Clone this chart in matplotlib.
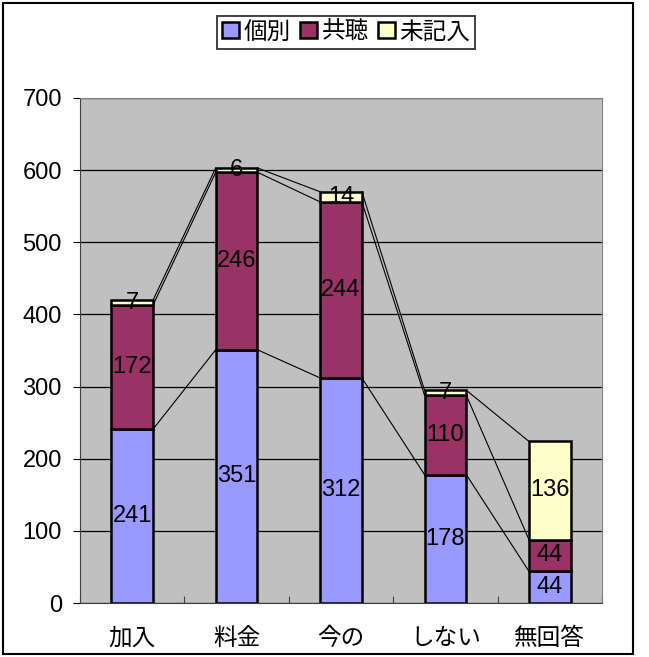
import matplotlib as mpl
import numpy as np
import matplotlib.pyplot as plt
from matplotlib.patches import Rectangle

plt.rcParams['font.family'] = ['Liberation Sans', 'Noto Sans CJK JP', 'DejaVu Sans']

categories = ['加入', '料金', '今の', 'しない', '無回答']
series_names = ['個別', '共聴', '未記入']
kobetsu = [241, 351, 312, 178, 44]
kyocho = [172, 246, 244, 110, 44]
mikinyu = [7, 6, 14, 7, 136]
colors = ['#9999FF', '#993366', '#FFFFCC']

fig = plt.figure(figsize=(6.49, 6.57), dpi=100)
ax = fig.add_axes([80/649, 1 - 603/657, 522/649, 505/657])
ax.set_facecolor('#C0C0C0')

x = np.arange(len(categories))
w = 0.4
data = [kobetsu, kyocho, mikinyu]
bottom = np.zeros(len(categories))
for vals, name, col in zip(data, series_names, colors):
    vals = np.array(vals)
    ax.bar(x, vals, w, bottom=bottom, color=col, edgecolor='black',
           linewidth=1.8, label=name, zorder=3)
    top = bottom + vals
    # series lines between bars
    for i in range(len(x) - 1):
        ax.plot([x[i] + w/2, x[i+1] - w/2], [top[i], top[i+1]],
                color='black', lw=0.8, zorder=2)
    for xi, b, v in zip(x, bottom, vals):
        ax.text(xi, b + v/2, str(v), ha='center', va='center',
                fontsize=17, zorder=4)
    bottom = top

ax.set_xlim(-0.5, len(categories) - 0.5)
ax.set_ylim(0, 700)
ax.set_yticks(np.arange(0, 701, 100))
ax.yaxis.grid(True, color='black', lw=0.9, zorder=1)
ax.set_axisbelow(True)
ax.set_xticks(np.arange(-0.5, len(categories), 1.0))
ax.set_xticklabels([])
ax.set_xticks(x, minor=True)
ax.set_xticklabels(categories, minor=True, fontsize=17)
ax.tick_params(axis='x', which='major', direction='in', length=5, color='#404040')
ax.tick_params(axis='x', which='minor', length=0, pad=18)
ax.tick_params(axis='y', direction='out', length=5, labelsize=17, pad=8)
for s in ['top', 'right']:
    ax.spines[s].set_color('#808080')
for s in ['left', 'bottom']:
    ax.spines[s].set_color('#404040')

leg = ax.legend(loc='upper center', bbox_to_anchor=(0.51, 1.162), ncol=3,
                frameon=True, fancybox=False, edgecolor='black', fontsize=17,
                handlelength=0.7, handleheight=0.7, handletextpad=0.2,
                columnspacing=0.4, borderpad=0.22, borderaxespad=0)
leg.get_frame().set_linewidth(1.3)
for h in leg.legend_handles:
    h.set_linewidth(1.8)

fig.patches.append(Rectangle((3/649, 3/657), 630/649, 651/657, transform=fig.transFigure,
                             fill=False, edgecolor='black', lw=1.5))

fig.savefig('out.png', dpi=100)
